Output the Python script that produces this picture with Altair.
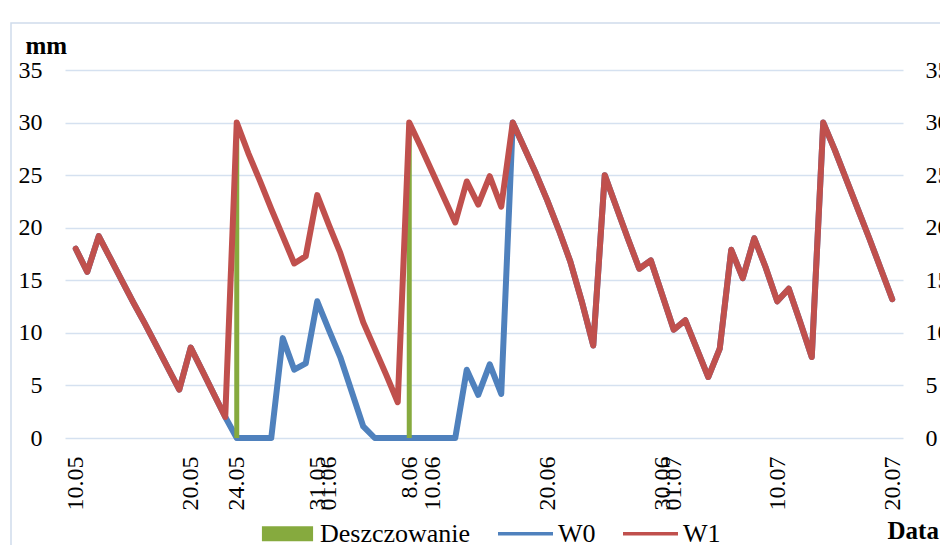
import json
import altair as alt
import pandas as pd

# ---------------- data ----------------
dates = pd.date_range("2013-05-10", "2013-07-20", freq="D").strftime("%Y-%m-%d").tolist()

w1 = [18.0, 15.8, 19.2, 17.1, 15.0, 12.9, 10.9, 8.8, 6.7, 4.6,
      8.6, 6.4, 4.2, 2.0, 30.0, 27.1, 24.5, 21.8, 19.2, 16.6,
      17.3, 23.1, 20.3, 17.6, 14.3, 11.0, 8.5, 6.0, 3.4, 30.0,
      27.7, 25.3, 22.9, 20.5, 24.4, 22.2, 24.9, 22.0, 30.0, 27.6,
      25.2, 22.6, 19.8, 16.8, 13.0, 8.8, 25.0, 22.0, 19.0, 16.1,
      16.9, 13.6, 10.3, 11.2, 8.5, 5.8, 8.5, 17.9, 15.2, 19.0,
      16.2, 13.0, 14.2, 11.0, 7.7, 30.0, 27.4, 24.6, 21.8, 19.0,
      16.1, 13.2]

w0 = [18.0, 15.8, 19.2, 17.1, 15.0, 12.9, 10.9, 8.8, 6.7, 4.6,
      8.6, 6.4, 4.2, 2.0, 0.0, 0.0, 0.0, 0.0, 9.5, 6.5,
      7.1, 13.0, 10.3, 7.7, 4.4, 1.1, 0.0, 0.0, 0.0, 0.0,
      0.0, 0.0, 0.0, 0.0, 6.5, 4.1, 7.0, 4.2, 30.0, 27.6,
      25.2, 22.6, 19.8, 16.8, 13.0, 8.8, 25.0, 22.0, 19.0, 16.1,
      16.9, 13.6, 10.3, 11.2, 8.5, 5.8, 8.5, 17.9, 15.2, 19.0,
      16.2, 13.0, 14.2, 11.0, 7.7, 30.0, 27.4, 24.6, 21.8, 19.0,
      16.1, 13.2]

irrig_dates = ["2013-05-24", "2013-06-08"]
irrig_values = [30.0, 30.0]

tick_labels = ["10.05", "20.05", "24.05", "31.05", "01.06", "8.06",
               "10.06", "20.06", "30.06", "01.07", "10.07", "20.07"]
y_ticks = [0, 5, 10, 15, 20, 25, 30, 35]

series_names = ["Deszczowanie", "W0", "W1"]
series_colors = ["#86aa3e", "#4f81bd", "#c0504d"]
legend_shapes = ["M-0.93,-0.27H0.93V0.27H-0.93Z",
                 "M-1,-0.06H1V0.06H-1Z",
                 "M-1,-0.06H1V0.06H-1Z"]

# ---------------- tables ----------------
lines_df = pd.DataFrame({
    "date": dates * 2,
    "series": ["W0"] * len(dates) + ["W1"] * len(dates),
    "value": w0 + w1,
})
irrig_df = pd.DataFrame({"date": irrig_dates, "series": "Deszczowanie", "value": irrig_values})

tick_ts = []
tick_dt = []
for lab in tick_labels:
    d, m = lab.split(".")
    ts = pd.Timestamp(year=2013, month=int(m), day=int(d), tz="UTC")
    tick_ts.append(int(ts.value // 10**6))
    tick_dt.append(alt.DateTime(year=2013, month=int(m), date=int(d), utc=True))

label_expr = f"{json.dumps(tick_labels)}[indexof({json.dumps(tick_ts)}, time(datum.value))]"

FONT = "Liberation Serif"
GRID = "#d5e1f0"
cmap = dict(zip(series_names, series_colors))

x_enc = alt.X(
    "date:T",
    scale=alt.Scale(type="utc", domain=[
        alt.DateTime(year=2013, month=5, date=9, hours=12, utc=True),
        alt.DateTime(year=2013, month=7, date=20, hours=12, utc=True)]),
    axis=alt.Axis(values=tick_dt, labelExpr=label_expr, labelAngle=-90,
                  labelOverlap=False, labelBound=False, labelFlush=False,
                  labelFont=FONT, labelFontSize=24, labelColor="black",
                  labelPadding=18, labelAlign="right", labelBaseline="middle",
                  domain=False, ticks=False, grid=False,
                  title="Data", titleFont=FONT, titleFontSize=25, titleFontWeight="bold",
                  titleColor="black", titleX=822, titleY=92, titleAlign="left",
                  titleBaseline="middle", titleAngle=0),
)

y_scale = alt.Scale(domain=[0, 35], nice=False)

y_left = alt.Y(
    "value:Q", scale=y_scale,
    axis=alt.Axis(values=y_ticks, grid=True, gridColor=GRID, gridWidth=1.5,
                  domain=False, ticks=False, labelFont=FONT, labelFontSize=24,
                  labelColor="black", labelPadding=23,
                  title="mm", titleAngle=0, titleX=-40, titleY=-25, titleAlign="left",
                  titleBaseline="middle", titleFont=FONT, titleFontSize=25,
                  titleFontWeight="bold", titleColor="black"),
)
y_right = alt.Y(
    "value:Q", scale=y_scale,
    axis=alt.Axis(orient="right", values=y_ticks, grid=False, domain=False, ticks=False,
                  labelFont=FONT, labelFontSize=24, labelColor="black",
                  labelPadding=22, title=None),
)
y_none = alt.Y("value:Q", scale=y_scale, axis=None)

frame = alt.Chart(pd.DataFrame({"k": [0]})).mark_rect(
    fillOpacity=0, stroke="#cfdcec", strokeWidth=1.5
).encode(x=alt.value(-54), x2=alt.value(1200), y=alt.value(-47), y2=alt.value(1200))

w0_line = alt.Chart(lines_df).transform_filter(alt.datum.series == "W0").mark_line(
    strokeWidth=6, strokeCap="round", strokeJoin="round", color=cmap["W0"]
).encode(x=x_enc, y=y_left)

bars = alt.Chart(irrig_df).mark_bar(size=5, color=cmap["Deszczowanie"]).encode(
    x=x_enc, y=y_none)

w1_line = alt.Chart(lines_df).transform_filter(alt.datum.series == "W1").mark_line(
    strokeWidth=6, strokeCap="round", strokeJoin="round", color=cmap["W1"]
).encode(x=x_enc, y=y_right)

leg = alt.Legend(orient="none", legendX=195, legendY=436,
                 direction="horizontal", title=None,
                 labelFont=FONT, labelFontSize=26, labelColor="black",
                 symbolSize=3025, symbolOpacity=1, symbolStrokeWidth=0,
                 columnPadding=27, labelOffset=5)

legend_layer = alt.Chart(irrig_df).mark_point(filled=True, opacity=0).encode(
    x=x_enc, y=y_none,
    color=alt.Color("series:N", scale=alt.Scale(domain=series_names, range=series_colors), legend=leg),
    shape=alt.Shape("series:N", scale=alt.Scale(domain=series_names, range=legend_shapes), legend=leg),
)

chart = alt.layer(frame, w0_line, bars, w1_line, legend_layer).resolve_axis(
    y="independent"
).properties(
    width=838, height=368,
    autosize=alt.AutoSizeParams(type="none"),
    padding={"left": 57, "top": 62, "right": 37, "bottom": 107},
    background="white",
).configure(font=FONT).configure_view(stroke=None).configure_axis(
    labelFont=FONT, titleFont=FONT
)

chart.save("out.html", embed_options={"renderer": "svg", "actions": False})
